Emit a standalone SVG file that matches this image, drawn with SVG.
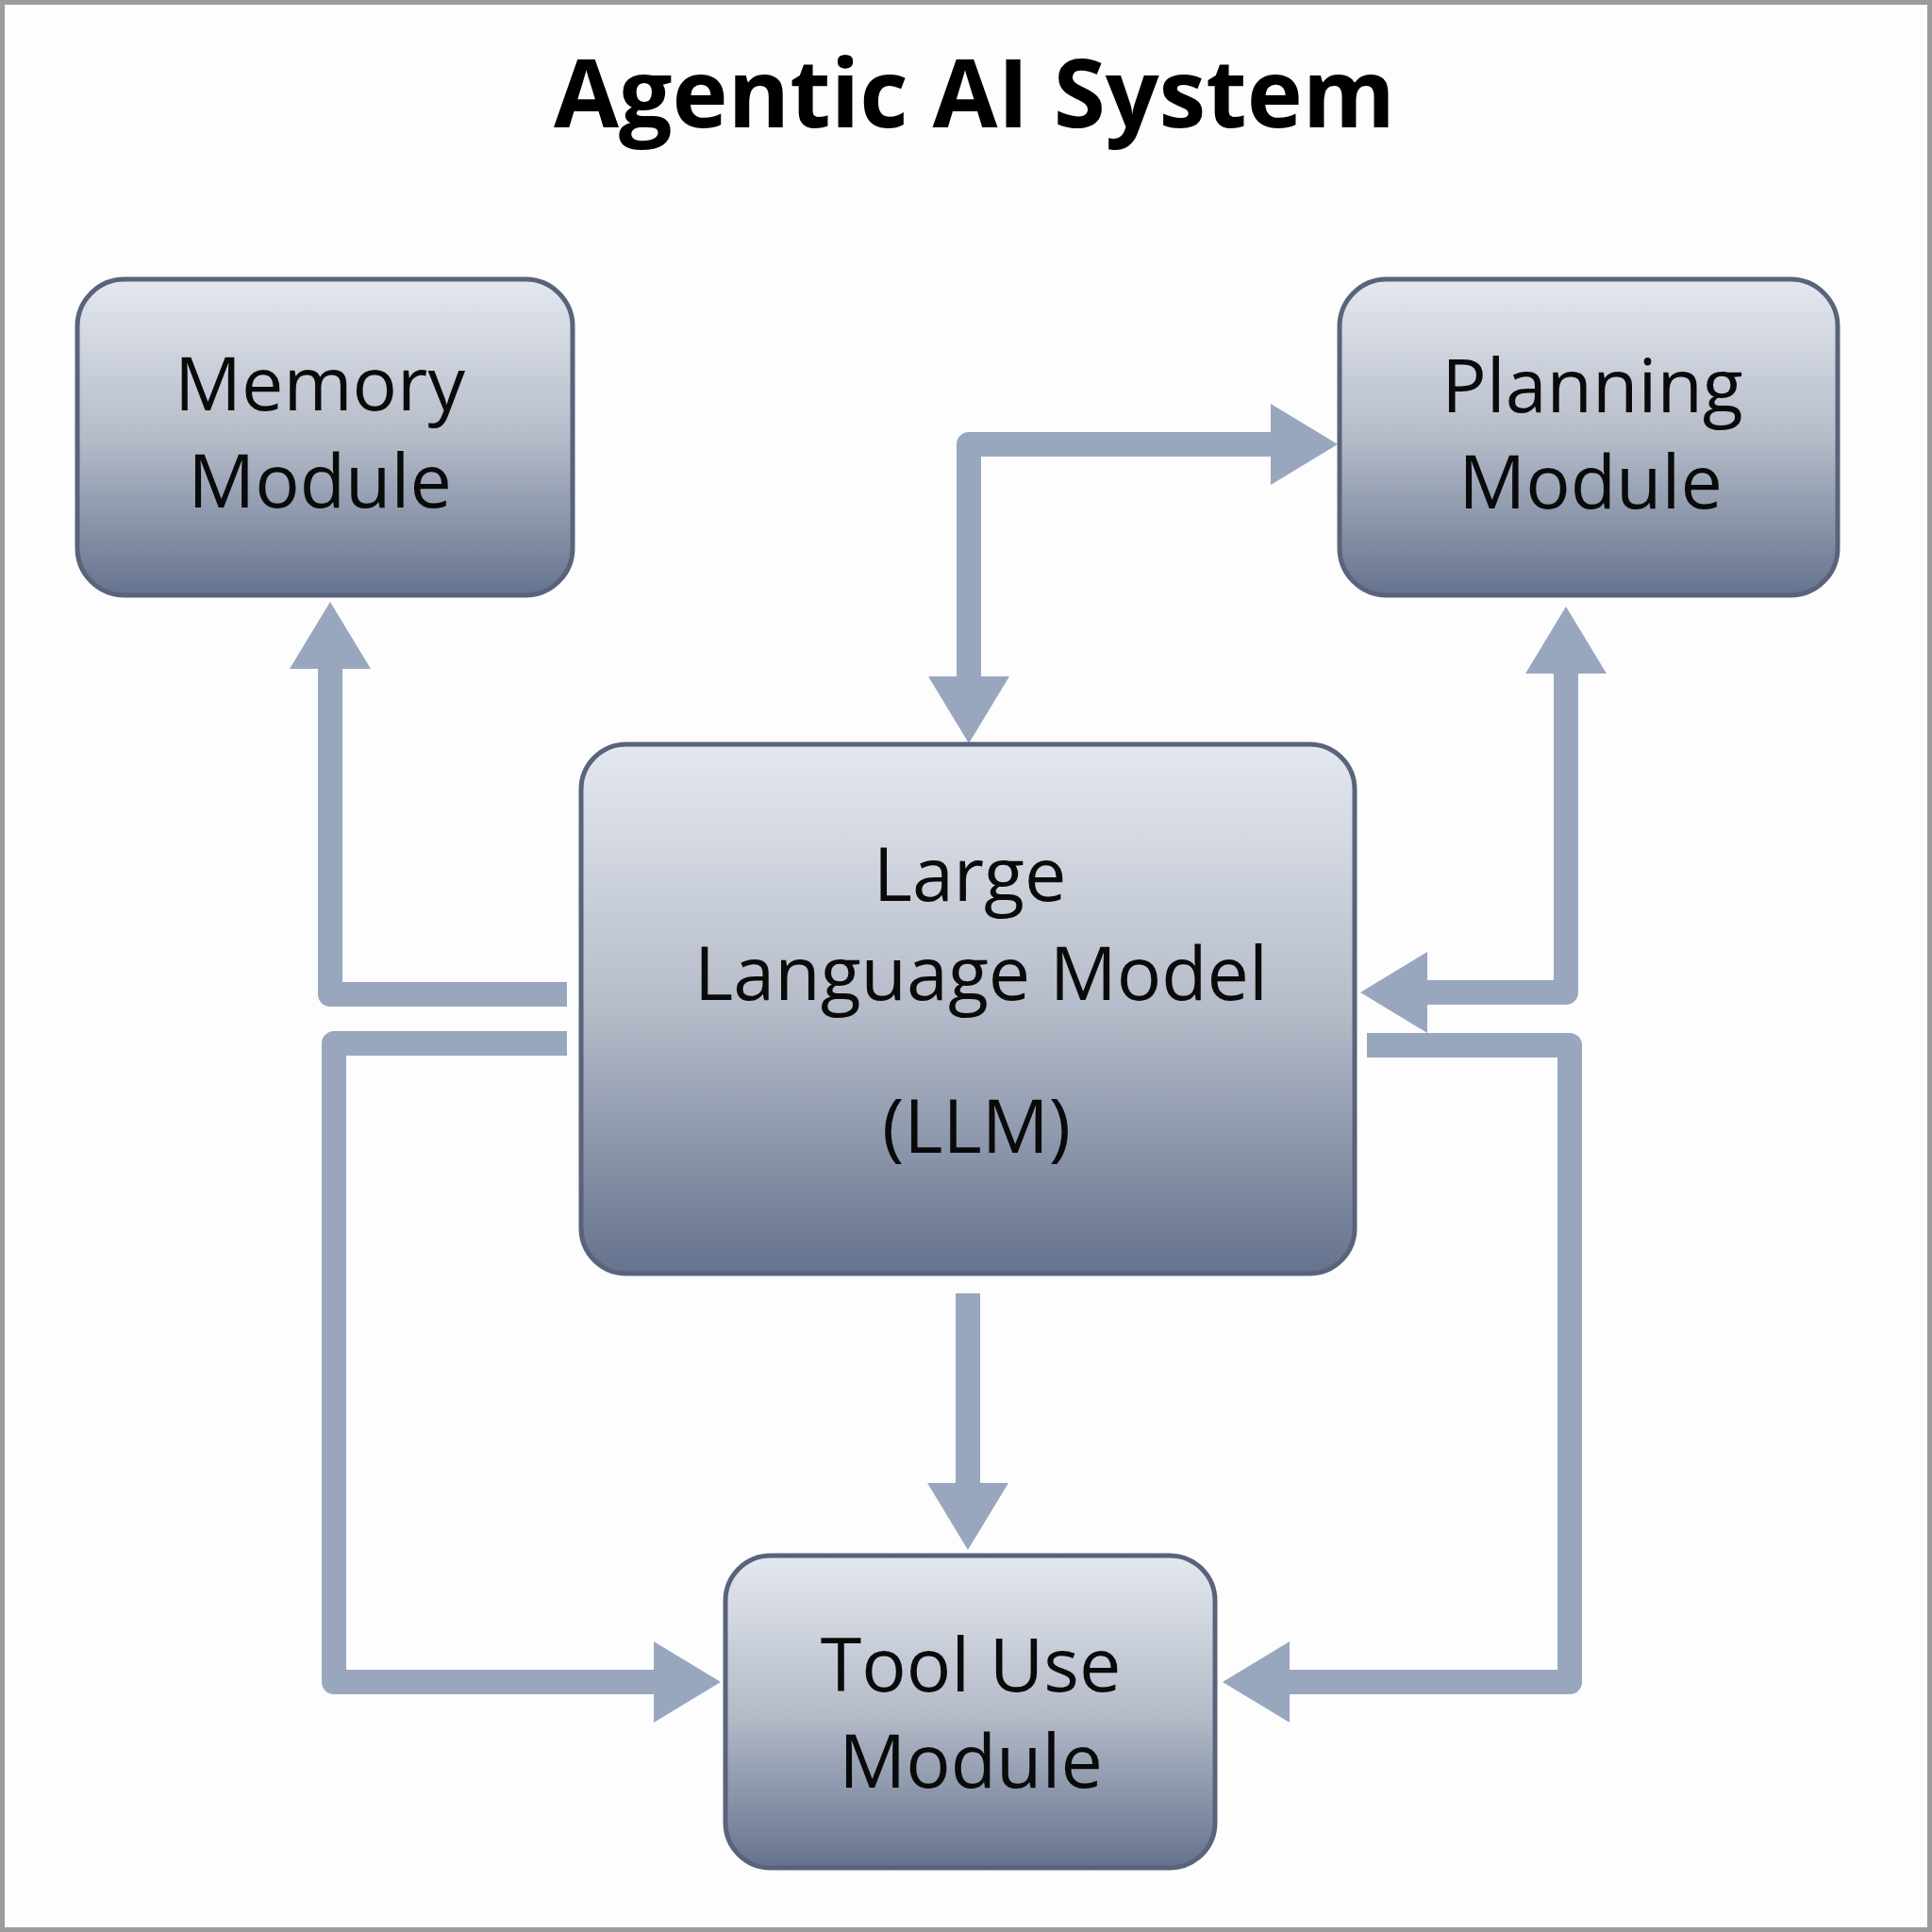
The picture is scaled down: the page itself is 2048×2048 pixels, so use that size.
<svg xmlns="http://www.w3.org/2000/svg" width="2048" height="2048" viewBox="0 0 2048 2048">
  <style>
    .box { stroke: #59637a; stroke-width: 5; fill: url(#boxGrad); }
    .lbl { font-family: "Open Sans", "Noto Sans", "DejaVu Sans", sans-serif; font-size: 79px; fill: #0a0a0a; text-anchor: middle; }
    .title { font-family: "Open Sans", "Noto Sans", "DejaVu Sans", sans-serif; font-size: 100px; font-weight: bold; fill: #000; text-anchor: middle; }
    .conn { fill: none; stroke: #98a7be; stroke-width: 26; stroke-linejoin: round; stroke-linecap: butt; }
  </style>
  <defs>
    <linearGradient id="boxGrad" x1="0" y1="0" x2="0" y2="1">
      <stop offset="0" stop-color="#e4e8ef"/>
      <stop offset="0.5" stop-color="#b5bcc9"/>
      <stop offset="1" stop-color="#66738f"/>
    </linearGradient>
    <marker id="head" markerUnits="userSpaceOnUse" markerWidth="72" markerHeight="86" refX="0" refY="43" orient="auto-start-reverse" viewBox="0 0 72 86">
      <path d="M0,0 L71,43 L0,86 Z" fill="#98a7be"/>
    </marker>
  </defs>

  <rect x="0" y="0" width="2048" height="2048" fill="#fdfdfe"/>
  <rect x="2.5" y="2.5" width="2043" height="2043" fill="none" stroke="#9c9c9c" stroke-width="5"/>

  <text class="title" x="1033" y="135">Agentic AI System</text>

  <g id="connectors">
    <path class="conn" d="M1027,717 V471 H1347" marker-start="url(#head)" marker-end="url(#head)"/>
    <path class="conn" d="M601,1054 H350 V709" marker-end="url(#head)"/>
    <path class="conn" d="M601,1106 H354 V1783 H693" marker-end="url(#head)"/>
    <path class="conn" d="M1660,714 V1052 H1513" marker-start="url(#head)" marker-end="url(#head)"/>
    <path class="conn" d="M1449,1108 H1664 V1783 H1367" marker-end="url(#head)"/>
    <path class="conn" d="M1026,1371 V1572" marker-end="url(#head)"/>
  </g>

  <g id="memory">
    <rect class="box" x="82" y="296" width="525" height="335" rx="50"/>
    <text class="lbl" x="339" y="435">Memory</text>
    <text class="lbl" x="339" y="538">Module</text>
  </g>

  <g id="planning">
    <rect class="box" x="1420" y="296" width="528" height="335" rx="50"/>
    <text class="lbl" x="1688" y="437">Planning</text>
    <text class="lbl" x="1686" y="539">Module</text>
  </g>

  <g id="llm">
    <rect class="box" x="616" y="789" width="820" height="561" rx="48"/>
    <text class="lbl" x="1028" y="955">Large</text>
    <text class="lbl" x="1040" y="1060">Language Model</text>
    <text class="lbl" x="1035" y="1222">(LLM)</text>
  </g>

  <g id="tooluse">
    <rect class="box" x="769" y="1649" width="519" height="331" rx="48"/>
    <text class="lbl" x="1029" y="1793">Tool Use</text>
    <text class="lbl" x="1029" y="1895">Module</text>
  </g>
</svg>
